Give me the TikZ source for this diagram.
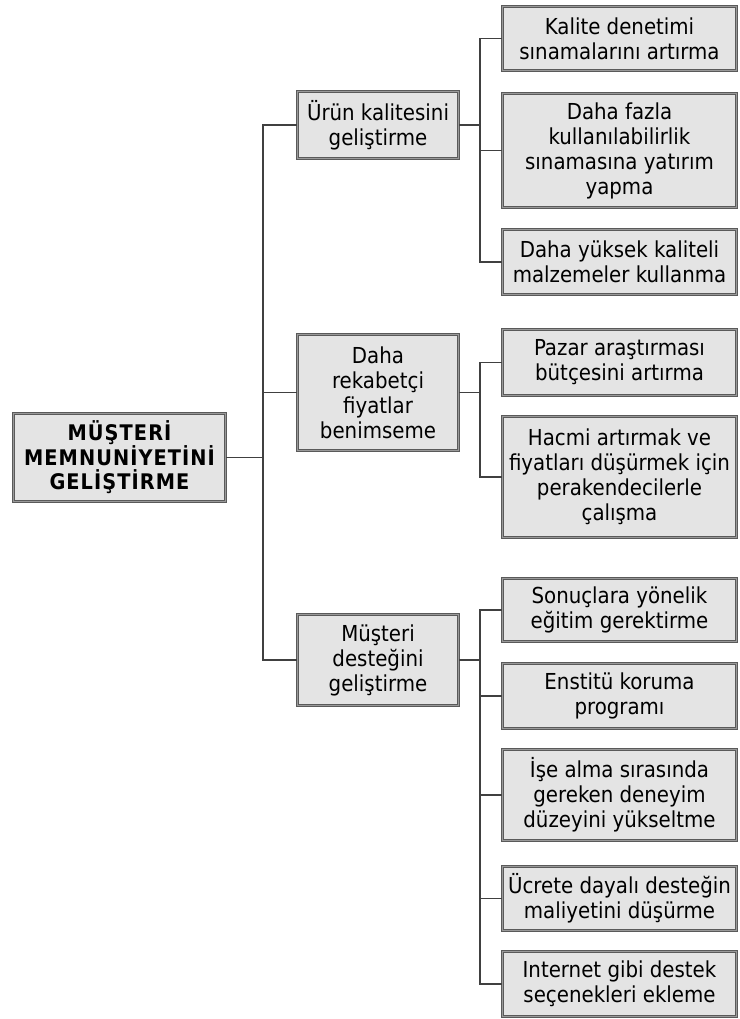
\documentclass[tikz,border=0pt]{standalone}
\usepackage{fontspec}
\setmainfont{DejaVu Sans Condensed}
\usepackage{tikz}
\usetikzlibrary{positioning}
\definecolor{kenar}{HTML}{5A5A5A}
\definecolor{ic}{HTML}{E4E4E4}
\definecolor{hat}{HTML}{404040}

\begin{document}
\begin{tikzpicture}[x=1pt,y=-1pt,
  kutu/.style={draw=kenar,double=black!40,double distance=1.5pt,line width=1.1pt,fill=ic,
    align=center,inner sep=2pt,font=\fontsize{22}{25}\selectfont},
  kok/.style={kutu,font=\fontsize{21.5}{24.5}\selectfont\bfseries\addfontfeature{LetterSpace=5}},
  bag/.style={hat,line width=1.8pt}]
  \useasboundingbox (0,0) rectangle (739,1019);
  \node[kok,minimum width=212,minimum height=88] (root) at (119.5,457.5) {MÜŞTERİ\\MEMNUNİYETİNİ\\GELİŞTİRME};
  \node[kutu,minimum width=161,minimum height=67] (urun) at (378,125) {Ürün kalitesini\\geliştirme};
  \node[kutu,minimum width=161,minimum height=116] (rekabet) at (378,392.5) {Daha\\rekabetçi\\fiyatlar\\benimseme};
  \node[kutu,minimum width=161,minimum height=91] (destek) at (378,660) {Müşteri\\desteğini\\geliştirme};
  \node[kutu,minimum width=234,minimum height=64] (k1) at (619.5,38.5) {Kalite denetimi\\sınamalarını artırma};
  \node[kutu,minimum width=234,minimum height=114] (k2) at (619.5,150.5) {Daha fazla\\kullanılabilirlik\\sınamasına yatırım\\yapma};
  \node[kutu,minimum width=234,minimum height=65] (k3) at (619.5,262) {Daha yüksek kaliteli\\malzemeler kullanma};
  \node[kutu,minimum width=234,minimum height=66] (f1) at (619.5,362.5) {Pazar araştırması\\bütçesini artırma};
  \node[kutu,minimum width=234,minimum height=121] (f2) at (619.5,477) {Hacmi artırmak ve\\fiyatları düşürmek için\\perakendecilerle\\çalışma};
  \node[kutu,minimum width=234,minimum height=63] (d1) at (619.5,610) {Sonuçlara yönelik\\eğitim gerektirme};
  \node[kutu,minimum width=234,minimum height=65] (d2) at (619.5,696) {Enstitü koruma\\programı};
  \node[kutu,minimum width=234,minimum height=91] (d3) at (619.5,795) {İşe alma sırasında\\gereken deneyim\\düzeyini yükseltme};
  \node[kutu,minimum width=234,minimum height=64] (d4) at (619.5,898.5) {Ücrete dayalı desteğin\\maliyetini düşürme};
  \node[kutu,minimum width=234,minimum height=65] (d5) at (619.5,984) {Internet gibi destek\\seçenekleri ekleme};
  \path (root.east -| urun.west) ++(-34,0) coordinate (tr0);
  \path (urun.east) ++(21,0) coordinate (tr1);
  \path (rekabet.east) ++(21,0) coordinate (tr2);
  \path (destek.east) ++(21,0) coordinate (tr3);
  \draw[bag] (root.east) -- (tr0);
  \foreach \n in {urun,rekabet,destek} \draw[bag] (tr0) |- (\n.west);
  \draw[bag] (urun.east) -- (tr1);
  \foreach \n in {k1,k2,k3} \draw[bag] (tr1) |- (\n.west);
  \draw[bag] (rekabet.east) -- (tr2);
  \foreach \n in {f1,f2} \draw[bag] (tr2) |- (\n.west);
  \draw[bag] (destek.east) -- (tr3);
  \foreach \n in {d1,d2,d3,d4,d5} \draw[bag] (tr3) |- (\n.west);
\end{tikzpicture}
\end{document}
